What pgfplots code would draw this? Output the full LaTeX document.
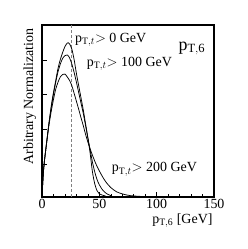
\documentclass[border=0pt]{standalone}
\usepackage{fontspec}
\setmainfont{Liberation Serif}
\usepackage{pgfplots}
\pgfplotsset{compat=1.18}
\begin{document}
\begin{tikzpicture}
\begin{axis}[
  at={(0,0)}, anchor=south west,
  scale only axis, width=172bp, height=172bp,
  xmin=0, xmax=150, ymin=0, ymax=4.94,
  xtick={0,50,100,150},
  minor x tick num=4,
  ytick={0.94,1.94,2.94,3.94},
  minor y tick num=0,
  yticklabels={},
  tick pos=left,
  tick align=inside,
  major tick length=5bp, minor tick length=2.5bp,
  axis line style={line width=1.2pt},
  every tick/.style={black, line width=0.6pt},
  ticklabel style={font=\fontsize{14}{16}\selectfont},
  xticklabel style={yshift=1bp},
  /pgf/number format/assume math mode=true,
  xlabel={p$_{\mathrm{T,6}}$ [GeV]},
  xlabel style={font=\fontsize{14}{16}\selectfont, at={(axis description cs:1,0)}, anchor=base east, yshift=-26bp, xshift=2bp},
  ylabel={Arbitrary Normalization},
  ylabel style={font=\fontsize{14}{16}\selectfont, at={(axis description cs:-0.052,1)}, anchor=base east},
  clip=false,
]
\addplot[gray, densely dashed, line width=0.5pt] coordinates {(25.5,0) (25.5,4.94)};
% pT,t > 0
\addplot[black, line width=0.75pt, smooth] coordinates {
(0,0) (1,0.6) (2,1.0) (4,1.55) (6,2.1) (8,2.6) (10,3.0) (12,3.35) (14,3.7) (16,3.95) (18,4.15) (20,4.32) (22,4.42) (23,4.43) (24,4.4) (26,4.25) (28,3.95) (30,3.55) (32,3.2) (34,2.85) (36,2.5) (38,2.1) (40,1.7) (42,1.25) (44,0.72) (46,0.38) (48,0.18) (50,0.09) (55,0.03) (60,0.0) (150,0)};
% pT,t > 100
\addplot[black, line width=0.75pt, smooth] coordinates {
(0,0) (1,0.6) (2,1.0) (4,1.55) (6,2.1) (8,2.55) (10,2.95) (12,3.3) (14,3.6) (16,3.82) (18,3.98) (20,4.06) (22,4.08) (24,4.0) (26,3.82) (28,3.58) (30,3.3) (32,3.0) (34,2.7) (36,2.4) (38,2.05) (40,1.7) (42,1.35) (44,1.0) (46,0.72) (48,0.5) (50,0.35) (52,0.24) (55,0.13) (60,0.04) (70,0.0) (150,0)};
% pT,t > 200
\addplot[black, line width=0.75pt, smooth] coordinates {
(0,0) (1,0.6) (2,1.0) (4,1.55) (6,2.05) (8,2.45) (10,2.8) (12,3.1) (14,3.3) (16,3.45) (18,3.52) (20,3.53) (22,3.45) (24,3.35) (26,3.2) (28,2.98) (30,2.75) (32,2.52) (34,2.28) (36,2.05) (38,1.8) (40,1.58) (42,1.38) (44,1.2) (46,1.03) (48,0.88) (50,0.75) (53,0.57) (56,0.42) (60,0.27) (65,0.15) (70,0.09) (75,0.05) (80,0.03) (90,0.01) (100,0) (150,0)};
\node[anchor=base west, inner sep=0pt, font=\fontsize{14}{16}\selectfont] at (axis cs:28.8,4.45) {p$_{\mathrm{T},t}$$>$ 0 GeV};
\node[anchor=base west, inner sep=0pt, font=\fontsize{14}{16}\selectfont] at (axis cs:39,3.76) {p$_{\mathrm{T},t}$$>$ 100 GeV};
\node[anchor=base west, inner sep=0pt, font=\fontsize{14}{16}\selectfont] at (axis cs:60.8,0.72) {p$_{\mathrm{T},t}$$>$ 200 GeV};
\node[anchor=base west, inner sep=0pt, font=\fontsize{18}{20}\selectfont] at (axis cs:118.9,4.21) {p$_{\mathrm{T,6}}$};
\end{axis}
\path[use as bounding box] (-42bp,-52bp) rectangle (206bp,197bp);
\end{tikzpicture}
\end{document}
